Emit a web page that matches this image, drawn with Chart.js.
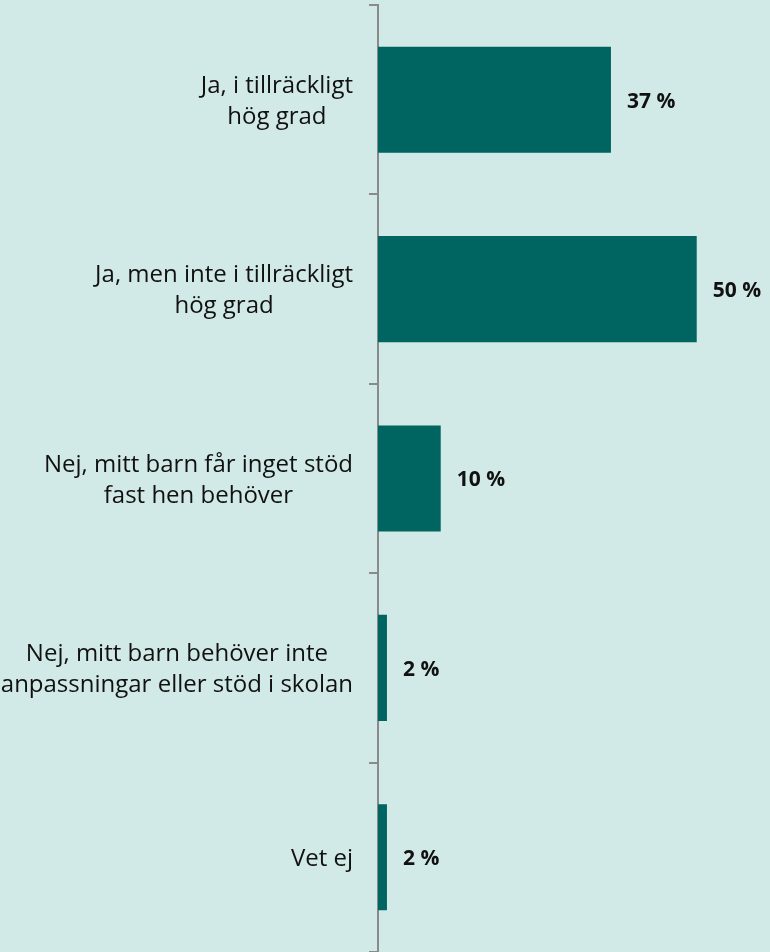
<!DOCTYPE html>
<html>
<head>
<meta charset="utf-8">
<script src="https://cdn.jsdelivr.net/npm/chart.js@4"></script>
<style>
  html, body { margin: 0; padding: 0; background: #d2eae7; }
  #wrap { width: 770px; height: 952px; }
</style>
</head>
<body>
<div id="wrap"><canvas id="myChart"></canvas></div>
<script>
const categories = [
  ['Ja, i tillräckligt', 'hög grad'],
  ['Ja, men inte i tillräckligt', 'hög grad'],
  ['Nej, mitt barn får inget stöd', 'fast hen behöver'],
  ['Nej, mitt barn behöver inte', 'anpassningar eller stöd i skolan'],
  ['Vet ej']
]
const values = [36.4, 49.8, 9.8, 1.4, 1.4]
const valueLabels = ['37 %', '50 %', '10 %', '2 %', '2 %']

const font = '"Open Sans", Lato, sans-serif'

// category labels: right-aligned block, lines centred inside it
const labelPlugin = {
  id: 'labels',
  afterDraw(chart) {
    const ctx = chart.ctx
    const y = chart.scales.y
    const x = chart.scales.x
    ctx.save()
    ctx.fillStyle = '#111'
    ctx.textBaseline = 'middle'
    categories.forEach((lines, i) => {
      const cy = y.getPixelForValue(i)
      ctx.font = '24px ' + font
      const w = Math.max(...lines.map(l => ctx.measureText(l).width))
      const cx = chart.chartArea.left - 25 - w / 2
      const lh = 31
      lines.forEach((l, j) => {
        ctx.textAlign = 'center'
        ctx.fillText(l, cx, cy + 2 + (j - (lines.length - 1) / 2) * lh)
      })
      ctx.font = 'bold 21px ' + font
      ctx.textAlign = 'left'
      ctx.fillText(valueLabels[i], x.getPixelForValue(values[i]) + 16, cy + 2)
    })
    ctx.restore()
  }
}

new Chart(document.getElementById('myChart'), {
  type: 'bar',
  data: {
    labels: categories.map(c => c.join(' ')),
    datasets: [{
      data: values,
      backgroundColor: '#006561',
      borderWidth: 0,
      barPercentage: 0.56,
      categoryPercentage: 1
    }]
  },
  options: {
    indexAxis: 'y',
    responsive: true,
    maintainAspectRatio: false,
    animation: false,
    layout: { padding: { top: 5, right: 8, bottom: 0, left: 0 } },
    plugins: { legend: { display: false }, tooltip: { enabled: false } },
    scales: {
      x: { display: false, min: 0, max: 60 },
      y: {
        afterFit(scale) { scale.width = 378 },
        ticks: { display: false },
        grid: {
          drawOnChartArea: false,
          drawTicks: true,
          tickLength: 9,
          color: '#8a8a8a',
          lineWidth: 2,
          offset: true
        },
        border: { display: true, color: '#8a8a8a', width: 2 }
      }
    }
  },
  plugins: [labelPlugin]
});
</script>
</body>
</html>
